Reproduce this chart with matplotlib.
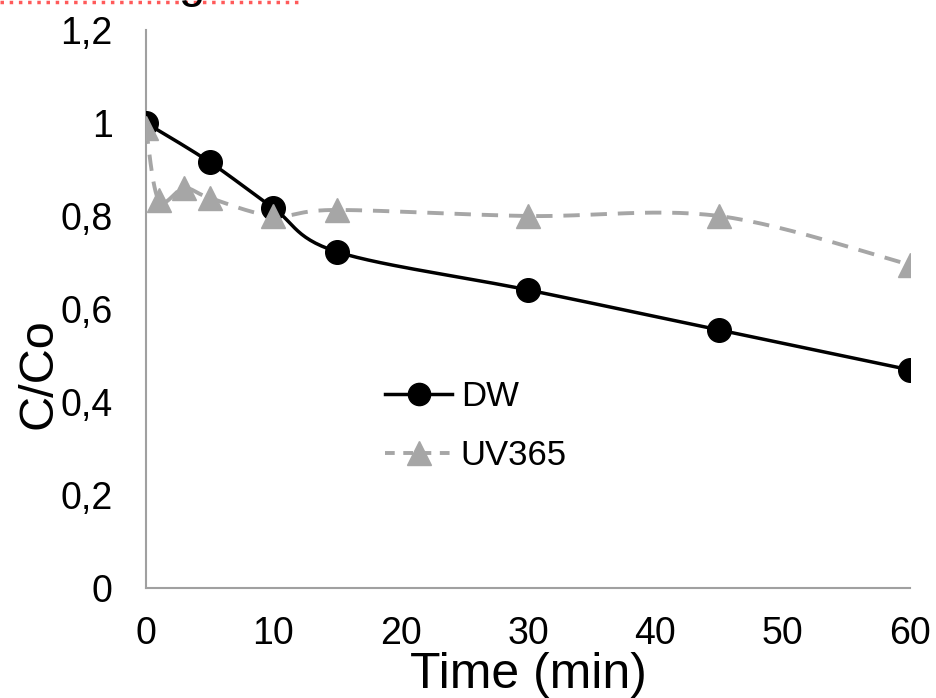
import numpy as np
import matplotlib
matplotlib.use('Agg')
import matplotlib.pyplot as plt

plt.rcParams['font.family'] = ['Liberation Sans', 'DejaVu Sans']

# data
time_dw = [0, 5, 10, 15, 30, 45, 60]
dw = [1.0, 0.916, 0.817, 0.723, 0.641, 0.555, 0.469]

time_uv = [0, 1, 3, 5, 10, 15, 30, 45, 60]
uv365 = [0.99, 0.834, 0.86, 0.839, 0.80, 0.813, 0.80, 0.80, 0.695]

x_ticks = [0, 10, 20, 30, 40, 50, 60]
y_ticks = [0, 0.2, 0.4, 0.6, 0.8, 1.0, 1.2]
y_tick_labels = ['0', '0,2', '0,4', '0,6', '0,8', '1', '1,2']


def smooth(ax, xs, ys, n=30):
    # excel style smoothed line, bezier built in display space
    pts = ax.transData.transform(np.column_stack([xs, ys]))
    out = [pts[0]]
    for i in range(len(pts) - 1):
        p0 = pts[max(i - 1, 0)]
        p1 = pts[i]
        p2 = pts[i + 1]
        p3 = pts[min(i + 2, len(pts) - 1)]
        c1 = p1 + (p2 - p0) / 6
        c2 = p2 - (p3 - p1) / 6
        t = np.linspace(0, 1, n)[1:, None]
        seg = ((1 - t) ** 3) * p1 + 3 * ((1 - t) ** 2) * t * c1 + 3 * (1 - t) * t ** 2 * c2 + t ** 3 * p2
        out.extend(seg)
    out = ax.transData.inverted().transform(np.array(out))
    return out[:, 0], out[:, 1]


fig = plt.figure(figsize=(9.36, 6.98), dpi=100)
ax = fig.add_axes([146 / 936, 1 - 588 / 698, 764 / 936, 558 / 698])
ax.set_xlim(0, 60)
ax.set_ylim(0, 1.2)

grey = '#a6a6a6'

sx, sy = smooth(ax, time_uv, uv365)
ax.plot(sx, sy, color=grey, lw=2.8, dashes=(4.2, 2.8), zorder=2)
ax.plot(time_uv, uv365, ls='none', marker='^', ms=17, color=grey, mec=grey, zorder=4)

sx, sy = smooth(ax, time_dw, dw)
ax.plot(sx, sy, color='black', lw=2.5, zorder=3)
ax.plot(time_dw, dw, ls='none', marker='o', ms=17, color='black', zorder=3)

# legend proxies
h1, = ax.plot([], [], color='black', lw=2.5, marker='o', ms=16, label='DW')
h2, = ax.plot([], [], color=grey, lw=2.8, dashes=(2.5, 2.2), marker='^', ms=17, label='UV365')
ax.legend(handles=[h1, h2], loc='center left', bbox_to_anchor=(0.313, 0.29),
          frameon=False, fontsize=25, handlelength=1.93, handletextpad=0.25,
          labelspacing=0.75, borderpad=0, borderaxespad=0)

for s in ['top', 'right']:
    ax.spines[s].set_visible(False)
for s in ['left', 'bottom']:
    ax.spines[s].set_color('#a0a0a0')
    ax.spines[s].set_linewidth(1.5)

ax.set_xticks(x_ticks)
ax.set_yticks(y_ticks)
ax.set_yticklabels(y_tick_labels)
ax.tick_params(length=0, labelsize=27)
ax.tick_params(axis='x', pad=20)
ax.tick_params(axis='y', pad=24)

ax.set_xlabel('Time (min)', fontsize=36)
ax.xaxis.set_label_coords(0.5, -0.114)
ax.set_ylabel('C/Co', fontsize=35)
ax.yaxis.set_label_coords(-0.11, 0.385)

# red squiggle of the cropped title line
fig.add_artist(plt.Line2D([0, 0.32], [0.997, 0.997], color='#ff5a5a', lw=2.5, ls=':'))
fig.text(0.205, 1.005, 'g', fontsize=34, ha='center', va='baseline')

fig.savefig('out.png', dpi=100)
